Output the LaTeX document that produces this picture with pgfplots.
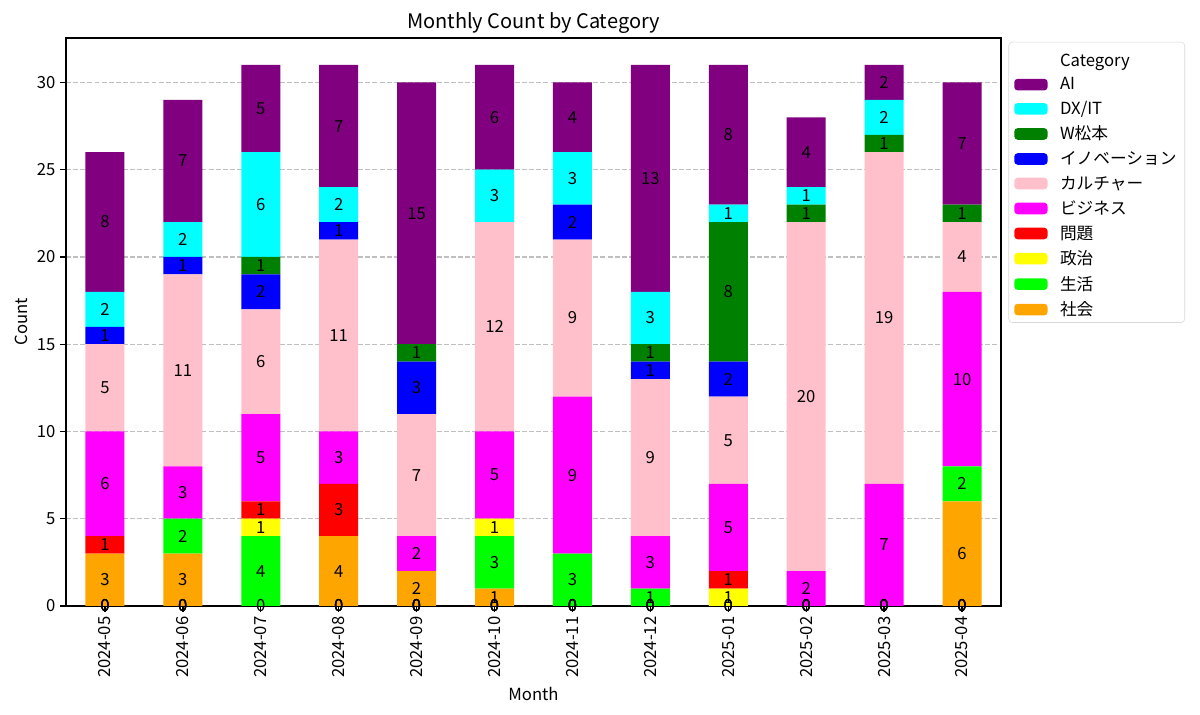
\documentclass[border=0pt]{standalone}
\usepackage{fontspec}
\setmainfont{Noto Sans CJK JP}
\usepackage{pgfplots}
\usepackage{pgfplotstable}
\pgfplotsset{compat=1.18}
\definecolor{cAI}{RGB}{128,0,128}
\definecolor{cDX}{RGB}{0,255,255}
\definecolor{cWM}{RGB}{0,128,0}
\definecolor{cINN}{RGB}{0,0,255}
\definecolor{cCUL}{RGB}{255,192,203}
\definecolor{cBIZ}{RGB}{255,0,255}
\definecolor{cMON}{RGB}{255,0,0}
\definecolor{cPOL}{RGB}{255,255,0}
\definecolor{cSEI}{RGB}{0,255,0}
\definecolor{cSHA}{RGB}{255,165,0}
\pgfplotstableread{
x sha sei pol mon biz cul inn wm dx ai
0 3 0 0 1 6 5 1 0 2 8
1 3 2 0 0 3 11 1 0 2 7
2 0 4 1 1 5 6 2 1 6 5
3 4 0 0 3 3 11 1 0 2 7
4 2 0 0 0 2 7 3 1 0 15
5 1 3 1 0 5 12 0 0 3 6
6 0 3 0 0 9 9 2 0 3 4
7 0 1 0 0 3 9 1 1 3 13
8 0 0 1 1 5 5 2 8 1 8
9 0 0 0 0 2 20 0 1 1 4
10 0 0 0 0 7 19 0 1 2 2
11 6 2 0 0 10 4 0 1 0 7
}\data
\newcommand\lab[2]{\addplot[draw=none, mark=none, sharp plot, nodes near coords, point meta=explicit]
  table[x=x, y expr={(\thisrow{#1}==0) ? 0 : (#2+\thisrow{#1}/2)}, meta=#1] {\data};}
\newcommand\fs{\fontsize{12.05}{14}\selectfont}
\pgfplotsset{
  common/.style={
    at={(47.7pt,78.8pt)}, anchor=south west,
    scale only axis, width=675.7pt, height=410.5pt,
    xmin=-0.5, xmax=11.5, ymin=0, ymax=32.55,
    /pgf/number format/assume math mode=true,
  }
}
\begin{document}
\begin{tikzpicture}
\path[use as bounding box] (0,0) rectangle (867.24pt,516.73pt);
\begin{axis}[
  common,
  ybar stacked, bar width=0.5,
  xtick={0,...,11},
  xticklabels={2024-05,2024-06,2024-07,2024-08,2024-09,2024-10,2024-11,2024-12,2025-01,2025-02,2025-03,2025-04},
  ytick={0,5,...,30},
  tick label style={font=\fs},
  xticklabel style={rotate=90, anchor=east},
  tick align=outside, tick pos=left, major tick length=4.2pt,
  tick style={black, line width=0.96pt},
  axis line style={black, line width=0.96pt},
  ymajorgrids,
  grid style={gray!50, line width=0.96pt, dash pattern=on 3.6pt off 1.55pt},
  title={Monthly Count by Category},
  title style={font=\fontsize{14.45}{17}\selectfont, yshift=-6.5pt},
  xlabel={Month}, ylabel={Count},
  label style={font=\fs},
  legend style={at={(1.008,0.993)}, anchor=north west, draw=black!15, rounded corners=2.5pt,
    font=\fs, row sep=2.8pt, cells={anchor=west}, inner xsep=4pt, inner ysep=1.5pt,
    /tikz/every odd column/.append style={column sep=7pt}},
  reverse legend,
  legend image code/.code={\fill[#1] (0pt,-4.2pt) rectangle (24.1pt,4.2pt);},
]
\addplot[fill=cSHA, draw=none] table[x=x, y=sha] {\data}; \addlegendentry{社会}
\addplot[fill=cSEI, draw=none] table[x=x, y=sei] {\data}; \addlegendentry{生活}
\addplot[fill=cPOL, draw=none] table[x=x, y=pol] {\data}; \addlegendentry{政治}
\addplot[fill=cMON, draw=none] table[x=x, y=mon] {\data}; \addlegendentry{問題}
\addplot[fill=cBIZ, draw=none] table[x=x, y=biz] {\data}; \addlegendentry{ビジネス}
\addplot[fill=cCUL, draw=none] table[x=x, y=cul] {\data}; \addlegendentry{カルチャー}
\addplot[fill=cINN, draw=none] table[x=x, y=inn] {\data}; \addlegendentry{イノベーション}
\addplot[fill=cWM, draw=none] table[x=x, y=wm] {\data}; \addlegendentry{W松本}
\addplot[fill=cDX, draw=none] table[x=x, y=dx] {\data}; \addlegendentry{DX/IT}
\addplot[fill=cAI, draw=none] table[x=x, y=ai] {\data}; \addlegendentry{AI}
\addlegendimage{empty legend}\addlegendentry{\rule[-4pt]{0pt}{17.7pt}Category}
\end{axis}
\begin{axis}[
  common, hide axis,
  every node near coord/.append style={anchor=center, inner sep=0pt, black, font=\fs},
]
\lab{sha}{0}
\lab{sei}{\thisrow{sha}}
\lab{pol}{\thisrow{sha}+\thisrow{sei}}
\lab{mon}{\thisrow{sha}+\thisrow{sei}+\thisrow{pol}}
\lab{biz}{\thisrow{sha}+\thisrow{sei}+\thisrow{pol}+\thisrow{mon}}
\lab{cul}{\thisrow{sha}+\thisrow{sei}+\thisrow{pol}+\thisrow{mon}+\thisrow{biz}}
\lab{inn}{\thisrow{sha}+\thisrow{sei}+\thisrow{pol}+\thisrow{mon}+\thisrow{biz}+\thisrow{cul}}
\lab{wm}{\thisrow{sha}+\thisrow{sei}+\thisrow{pol}+\thisrow{mon}+\thisrow{biz}+\thisrow{cul}+\thisrow{inn}}
\lab{dx}{\thisrow{sha}+\thisrow{sei}+\thisrow{pol}+\thisrow{mon}+\thisrow{biz}+\thisrow{cul}+\thisrow{inn}+\thisrow{wm}}
\lab{ai}{\thisrow{sha}+\thisrow{sei}+\thisrow{pol}+\thisrow{mon}+\thisrow{biz}+\thisrow{cul}+\thisrow{inn}+\thisrow{wm}+\thisrow{dx}}
\end{axis}
\end{tikzpicture}
\end{document}
